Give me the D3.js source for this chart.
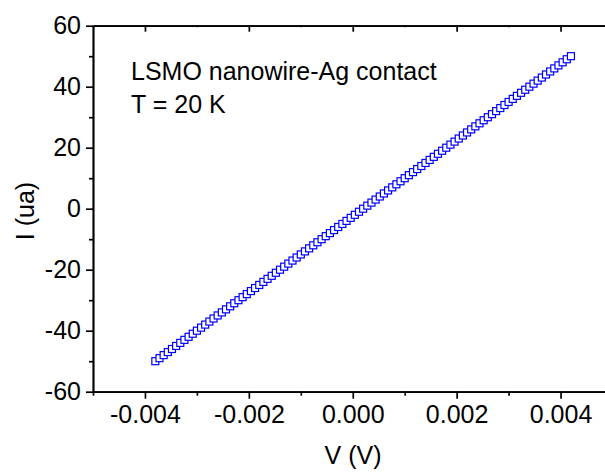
<!DOCTYPE html>
<html>
<head>
<meta charset="utf-8">
<script src="https://cdn.jsdelivr.net/npm/d3@7"></script>
<style>
  body { margin: 0; background: #fff; }
  text { font-family: "Liberation Sans", Arial, sans-serif; fill: #000; }
</style>
</head>
<body>
<script>
// measured I-V data (volts, microamps)
var voltage = [
  -0.00380, -0.00372, -0.00364, -0.00356, -0.00348, -0.00340, -0.00332, -0.00324, -0.00316, -0.00308,
  -0.00300, -0.00292, -0.00284, -0.00276, -0.00268, -0.00260, -0.00252, -0.00244, -0.00236, -0.00228,
  -0.00220, -0.00212, -0.00204, -0.00196, -0.00188, -0.00180, -0.00172, -0.00164, -0.00156, -0.00148,
  -0.00140, -0.00132, -0.00124, -0.00116, -0.00108, -0.00100, -0.00092, -0.00084, -0.00076, -0.00068,
  -0.00060, -0.00052, -0.00044, -0.00036, -0.00028, -0.00020, -0.00012, -0.00004, 0.00004, 0.00012,
  0.00020, 0.00028, 0.00036, 0.00044, 0.00052, 0.00060, 0.00068, 0.00076, 0.00084, 0.00092,
  0.00100, 0.00108, 0.00116, 0.00124, 0.00132, 0.00140, 0.00148, 0.00156, 0.00164, 0.00172,
  0.00180, 0.00188, 0.00196, 0.00204, 0.00212, 0.00220, 0.00228, 0.00236, 0.00244, 0.00252,
  0.00260, 0.00268, 0.00276, 0.00284, 0.00292, 0.00300, 0.00308, 0.00316, 0.00324, 0.00332,
  0.00340, 0.00348, 0.00356, 0.00364, 0.00372, 0.00380, 0.00388, 0.00396, 0.00404, 0.00412,
  0.00420
];
var current = [
  -50, -49, -48, -47, -46, -45, -44, -43, -42, -41,
  -40, -39, -38, -37, -36, -35, -34, -33, -32, -31,
  -30, -29, -28, -27, -26, -25, -24, -23, -22, -21,
  -20, -19, -18, -17, -16, -15, -14, -13, -12, -11,
  -10, -9, -8, -7, -6, -5, -4, -3, -2, -1,
  0, 1, 2, 3, 4, 5, 6, 7, 8, 9,
  10, 11, 12, 13, 14, 15, 16, 17, 18, 19,
  20, 21, 22, 23, 24, 25, 26, 27, 28, 29,
  30, 31, 32, 33, 34, 35, 36, 37, 38, 39,
  40, 41, 42, 43, 44, 45, 46, 47, 48, 49,
  50
];

var xTicks = [-0.004, -0.002, 0.000, 0.002, 0.004];
var xMinor = [-0.005, -0.003, -0.001, 0.001, 0.003, 0.005];
var yTicks = [-60, -40, -20, 0, 20, 40, 60];
var yMinor = [-50, -30, -10, 10, 30, 50];

var svgWidth = 605;
var svgHeight = 473;
var fontSize = 25;

var svg = d3.select('body')
  .append('svg')
  .attr('width', svgWidth)
  .attr('height', svgHeight);

// frame runs off the right edge in the original figure
var x = d3.scaleLinear()
  .domain([-0.005, 0.005])
  .range([93, 612.5]);

var y = d3.scaleLinear()
  .domain([-60, 60])
  .range([391.7, 25.7]);

// plain hyphen for the minus sign, like the original
var fmtX = d => d3.format('.3f')(d).replace('\u2212', '-');
var fmtY = d => d3.format('d')(d).replace('\u2212', '-');

// bottom axis
var bottomAxis = svg.append('g')
  .attr('transform', `translate(0, ${y(-60)})`);
bottomAxis.call(d3.axisBottom(x).tickValues(xTicks).tickFormat(fmtX).tickSize(7).tickPadding(7).tickSizeOuter(0));
bottomAxis.append('g')
  .call(d3.axisBottom(x).tickValues(xMinor).tickFormat('').tickSize(4).tickSizeOuter(0));

// top axis, ticks inward
var topAxis = svg.append('g')
  .attr('transform', `translate(0, ${y(60)})`);
topAxis.call(d3.axisBottom(x).tickValues(xTicks).tickFormat('').tickSize(6).tickSizeOuter(0));
topAxis.append('g')
  .call(d3.axisBottom(x).tickValues(xMinor).tickFormat('').tickSize(1.5).tickSizeOuter(0));

// left axis
var leftAxis = svg.append('g')
  .attr('transform', `translate(${x(-0.005)}, 0)`);
leftAxis.call(d3.axisLeft(y).tickValues(yTicks).tickFormat(fmtY).tickSize(7).tickPadding(5).tickSizeOuter(0));
leftAxis.append('g')
  .call(d3.axisLeft(y).tickValues(yMinor).tickFormat('').tickSize(4).tickSizeOuter(0));

svg.selectAll('.domain, .tick line')
  .attr('stroke', '#000')
  .attr('stroke-width', 1.7);

svg.selectAll('.tick text')
  .attr('font-size', fontSize)
  .attr('font-family', '"Liberation Sans", Arial, sans-serif')
  .attr('fill', '#000');

// data points, open squares
var pts = voltage.map(function(v, i) { return { v: v, i: current[i] }; });
var side = 7;

svg.append('g')
  .selectAll('rect')
  .data(pts)
  .enter()
  .append('rect')
  .attr('x', d => x(d.v) - side / 2)
  .attr('y', d => y(d.i) - side / 2)
  .attr('width', side)
  .attr('height', side)
  .attr('fill', '#fff')
  .attr('stroke', '#0000ff')
  .attr('stroke-width', 1.2);

// annotation
svg.append('text')
  .attr('x', 131)
  .attr('y', 80)
  .attr('font-size', fontSize)
  .text('LSMO nanowire-Ag contact');

svg.append('text')
  .attr('x', 131)
  .attr('y', 113)
  .attr('font-size', fontSize)
  .text('T = 20 K');

// axis titles
svg.append('text')
  .attr('x', 353)
  .attr('y', 464)
  .attr('text-anchor', 'middle')
  .attr('font-size', fontSize)
  .text('V (V)');

svg.append('text')
  .attr('transform', `translate(34, 211) rotate(-90)`)
  .attr('text-anchor', 'middle')
  .attr('font-size', fontSize)
  .text('I (ua)');
</script>
</body>
</html>
